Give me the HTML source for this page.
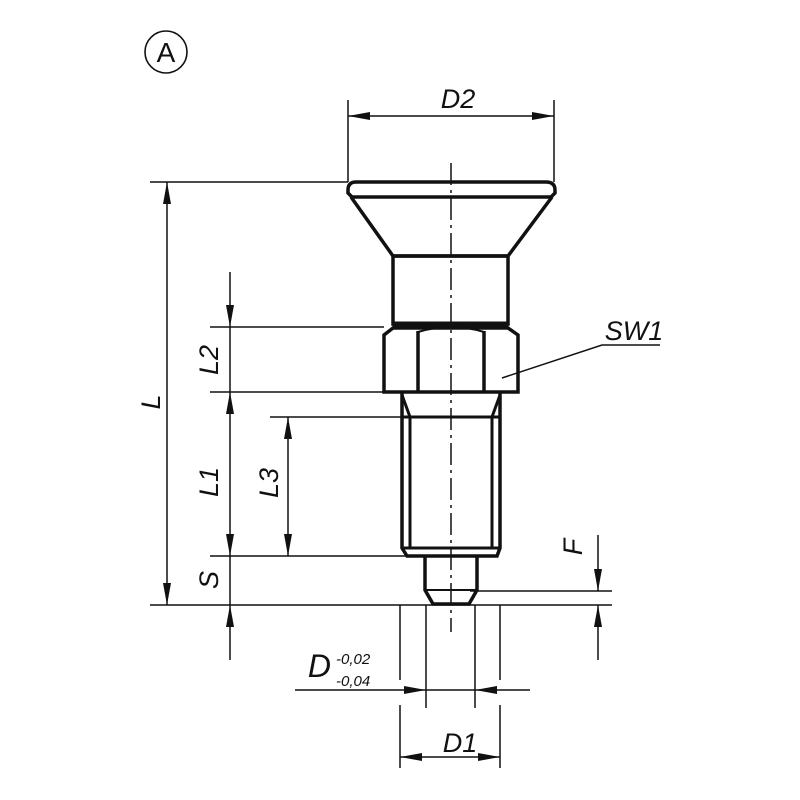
<!DOCTYPE html>
<html><head><meta charset="utf-8"><style>
html,body{margin:0;padding:0;background:#fff;width:800px;height:800px;overflow:hidden}
text{font-family:"Liberation Sans",sans-serif;font-style:italic;fill:#111}
</style></head><body>
<svg width="800" height="800" viewBox="0 0 800 800" xmlns="http://www.w3.org/2000/svg">
<defs>
<marker id="a" viewBox="0 0 22 8" refX="22" refY="4" markerWidth="22" markerHeight="8" markerUnits="userSpaceOnUse" orient="auto-start-reverse"><path d="M0,0 L22,4 L0,8z" fill="#111"/></marker>
</defs>
<g stroke="#111" fill="none">
<circle cx="166" cy="52" r="21" stroke-width="1.6"/>
<line x1="451" y1="163" x2="451" y2="632" stroke-width="1.5" stroke-dasharray="22,5,3,5"/>
<path d="M356,182 H546 Q555,182 555,190 V193 L551,197 H352 L348,193 V190 Q348,182 356,182Z" stroke-width="3.5"/>
<path d="M351,197 L393,256 H508 L552,197" stroke-width="3.5"/>
<rect x="393" y="256" width="115" height="68" stroke-width="3.5"/>
<rect x="393" y="322" width="115" height="6" fill="#111" stroke-width="1"/>
<path d="M384,335 L393,328 H508 L518,335 V392 H384Z" stroke-width="3.5"/>
<path d="M418,331 V392 M484,331 V392" stroke-width="3.5"/>
<path d="M418,332 Q451,322 484,332" stroke-width="2"/>
<path d="M402,392 V548 L407,556 H497 L500,548 V392" stroke-width="3.5"/>
<path d="M402,395 L410,417 V548 M500,395 L492,417 V548 M402,417 H500 M402,548 H500" stroke-width="3"/>
<path d="M425,556 V590 L433,604 H469 L477,590 V556" stroke-width="3.5"/>
<path d="M425,590 H477" stroke-width="2"/>
</g>
<g stroke="#111" stroke-width="1.5" fill="none">
<line x1="150" y1="182" x2="348" y2="182"/>
<line x1="210" y1="327" x2="384" y2="327"/>
<line x1="210" y1="392" x2="384" y2="392"/>
<line x1="270" y1="417" x2="402" y2="417"/>
<line x1="210" y1="556" x2="407" y2="556"/>
<line x1="150" y1="605" x2="612" y2="605"/>
<line x1="470" y1="591" x2="612" y2="591"/>
<line x1="348" y1="100" x2="348" y2="182"/>
<line x1="554" y1="100" x2="554" y2="182"/>
<line x1="348" y1="116" x2="554" y2="116" marker-start="url(#a)" marker-end="url(#a)"/>
<line x1="167" y1="182" x2="167" y2="605" marker-start="url(#a)" marker-end="url(#a)"/>
<line x1="230" y1="272" x2="230" y2="327" marker-end="url(#a)"/>
<line x1="230" y1="327" x2="230" y2="392"/>
<line x1="230" y1="392" x2="230" y2="556" marker-start="url(#a)" marker-end="url(#a)"/>
<line x1="230" y1="556" x2="230" y2="605"/>
<line x1="230" y1="660" x2="230" y2="605" marker-end="url(#a)"/>
<line x1="288" y1="417" x2="288" y2="556" marker-start="url(#a)" marker-end="url(#a)"/>
<line x1="598" y1="535" x2="598" y2="591" marker-end="url(#a)"/>
<line x1="598" y1="660" x2="598" y2="605" marker-end="url(#a)"/>
<polyline points="502,378 602,345 660,345"/>
<line x1="400" y1="605" x2="400" y2="680"/><line x1="400" y1="705" x2="400" y2="768"/>
<line x1="500" y1="605" x2="500" y2="680"/><line x1="500" y1="705" x2="500" y2="768"/>
<line x1="426" y1="605" x2="426" y2="708"/>
<line x1="475" y1="605" x2="475" y2="708"/>
<line x1="295" y1="690" x2="426" y2="690" marker-end="url(#a)"/>
<line x1="530" y1="690" x2="475" y2="690" marker-end="url(#a)"/>
<line x1="426" y1="690" x2="475" y2="690"/>
<line x1="400" y1="757" x2="500" y2="757" marker-start="url(#a)" marker-end="url(#a)"/>
</g>
<text x="166" y="62" font-size="28" text-anchor="middle" style="font-style:normal">A</text>
<text x="458" y="108" font-size="27" text-anchor="middle">D2</text>
<text x="634" y="340" font-size="27" text-anchor="middle">SW1</text>
<text x="331" y="677" font-size="32" text-anchor="end">D</text>
<text x="336" y="664" font-size="15">-0,02</text>
<text x="336" y="686" font-size="15">-0,04</text>
<text x="460" y="752" font-size="27" text-anchor="middle">D1</text>
<text transform="translate(160,402) rotate(-90)" font-size="27" text-anchor="middle">L</text>
<text transform="translate(218,360) rotate(-90)" font-size="27" text-anchor="middle">L2</text>
<text transform="translate(218,482) rotate(-90)" font-size="27" text-anchor="middle">L1</text>
<text transform="translate(278,483) rotate(-90)" font-size="27" text-anchor="middle">L3</text>
<text transform="translate(218,580) rotate(-90)" font-size="27" text-anchor="middle">S</text>
<text transform="translate(582,547) rotate(-90)" font-size="27" text-anchor="middle">F</text>
</svg>
</body></html>
